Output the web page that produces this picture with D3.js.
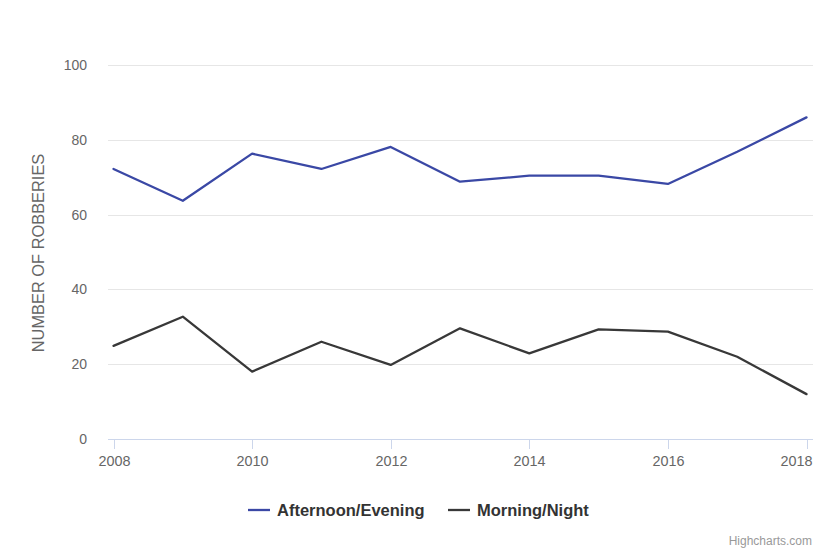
<!DOCTYPE html>
<html>
<head>
<meta charset="utf-8">
<script src="https://cdn.jsdelivr.net/npm/d3@7"></script>
<style>
  body { margin: 0; background: #fff; }
  svg { display: block; font-family: "Liberation Sans", Arial, Helvetica, sans-serif; }
</style>
</head>
<body>
<svg id="chart" width="815" height="550"></svg>
<script>
// data
const years = [2008, 2009, 2010, 2011, 2012, 2013, 2014, 2015, 2016, 2017, 2018];
const afternoonEvening = [72.2, 63.7, 76.3, 72.2, 78.1, 68.8, 70.4, 70.4, 68.2, 76.8, 86];
const morningNight = [24.9, 32.7, 18, 26, 19.8, 29.6, 22.9, 29.3, 28.7, 22, 12];
const yTicks = [0, 20, 40, 60, 80, 100];
const xTicks = [2008, 2010, 2012, 2014, 2016, 2018];

const series = [
    { name: "Afternoon/Evening", values: afternoonEvening, color: "#3a48a5" },
    { name: "Morning/Night", values: morningNight, color: "#383838" },
];

const svg = d3.select("#chart");
const plot = { left: 108, right: 813, top: 65, bottom: 439 };

let x = d3.scaleLinear().domain([2008, 2018]).range([113.5, 806.5]);
let y = d3.scaleLinear().domain([0, 100]).range([plot.bottom, plot.top]);

// gridlines
svg.append("g")
    .selectAll("line")
    .data(yTicks.filter(t => t > 0))
    .join("line")
    .attr("x1", plot.left)
    .attr("x2", plot.right)
    .attr("y1", d => Math.round(y(d)) + 0.5)
    .attr("y2", d => Math.round(y(d)) + 0.5)
    .attr("stroke", "#e6e6e6")
    .attr("stroke-width", 1);

// y labels
svg.append("g")
    .selectAll("text")
    .data(yTicks)
    .join("text")
    .attr("x", 87)
    .attr("y", d => y(d) + 5)
    .attr("text-anchor", "end")
    .attr("fill", "#666")
    .style("font-size", "14px")
    .text(d => d);

svg.append("text")
    .attr("transform", `translate(44,253) rotate(-90)`)
    .attr("text-anchor", "middle")
    .attr("fill", "#666")
    .style("font-size", "16.4px")
    .text("NUMBER OF ROBBERIES");

// x axis
let xAxis = svg.append("g");
xAxis.append("line")
    .attr("x1", plot.left)
    .attr("x2", plot.right)
    .attr("y1", plot.bottom + 0.5)
    .attr("y2", plot.bottom + 0.5)
    .attr("stroke", "#ccd6eb");

let ticks = xAxis.selectAll("g.tick")
    .data(xTicks)
    .join("g")
    .attr("class", "tick")
    .attr("transform", d => `translate(${Math.round(x(d)) + 0.5},0)`);

ticks.append("line")
    .attr("y1", plot.bottom)
    .attr("y2", plot.bottom + 10)
    .attr("stroke", "#ccd6eb");

// last label is pushed inside the chart edge, like the reference
ticks.append("text")
    .attr("x", (d, i) => i === xTicks.length - 1 ? 5 : 0)
    .attr("y", plot.bottom + 27)
    .attr("text-anchor", (d, i) => i === xTicks.length - 1 ? "end" : "middle")
    .attr("fill", "#666")
    .style("font-size", "14.4px")
    .text(d => d);

// lines
let line = d3.line()
    .x((d, i) => x(years[i]))
    .y(d => y(d));

svg.append("g")
    .selectAll("path")
    .data(series)
    .join("path")
    .attr("d", s => line(s.values))
    .attr("fill", "none")
    .attr("stroke", s => s.color)
    .attr("stroke-width", 2.3)
    .attr("stroke-linejoin", "round")
    .attr("stroke-linecap", "round");

// legend
const legendX = [248, 448];
let legend = svg.append("g")
    .selectAll("g")
    .data(series)
    .join("g")
    .attr("transform", (s, i) => `translate(${legendX[i]},510)`);

legend.append("line")
    .attr("x1", 0)
    .attr("x2", 22)
    .attr("stroke", s => s.color)
    .attr("stroke-width", 2.3);

legend.append("text")
    .attr("x", 29)
    .attr("y", 6)
    .attr("fill", "#333")
    .style("font-size", "16.5px")
    .style("font-weight", "bold")
    .text(s => s.name);

svg.append("text")
    .attr("x", 812)
    .attr("y", 545)
    .attr("text-anchor", "end")
    .attr("fill", "#999")
    .style("font-size", "12px")
    .text("Highcharts.com");
</script>
</body>
</html>
